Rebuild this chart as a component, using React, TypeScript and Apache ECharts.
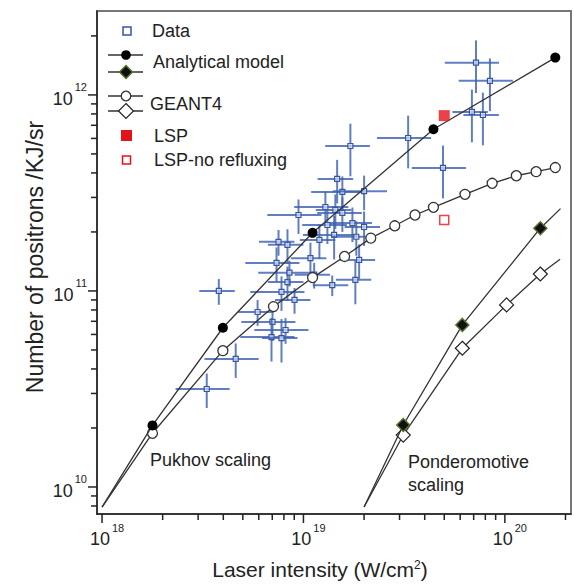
import React, { useEffect, useRef } from 'react';
import * as echarts from 'echarts';

// ---------- axis ranges & ticks ----------
const X_MIN = 9.44e17;
const X_MAX = 2.13e20;
const Y_MIN = 7.28e9;
const Y_MAX = 2.68e12;

const xMajorTicks = [1e18, 1e19, 1e20];
const xMinorTicks = [2e18, 3e18, 4e18, 5e18, 6e18, 7e18, 8e18, 9e18, 2e19, 3e19, 4e19, 5e19, 6e19, 7e19, 8e19, 9e19, 2e20];
const yMajorTicks = [1e10, 1e11, 1e12];
const yMinorTicks = [8e9, 9e9, 2e10, 3e10, 4e10, 5e10, 6e10, 7e10, 8e10, 9e10, 2e11, 3e11, 4e11, 5e11, 6e11, 7e11, 8e11, 9e11, 2e12];

// ---------- experimental data (laser intensity W/cm2, positrons per kJ per sr) ----------
const dataIntensity = [
  3.31e18, 4.61e18, 3.8e18, 5.92e18, 7.02e18, 8.15e18, 6.94e18, 7.78e18, 9.03e18, 7.78e18,
  8.33e18, 8.52e18, 7.35e18, 8.33e18, 7.52e18, 9.45e18, 1.285e19, 1.47e19, 1.71e19, 3.31e19,
  4.93e19, 7.19e19, 8.43e19, 6.86e19, 7.78e19, 1.39e19, 1.56e19, 2.0e19, 1.56e19, 1.75e19,
  2.0e19, 1.42e19, 1.83e19, 1.89e19, 1.81e19, 1.083e19, 1.2e19, 1.315e19, 1.44e19, 1.13e19,
];
const dataPositrons = [
  3.16e10, 4.5e10, 1.0e11, 7.81e10, 6.95e10, 6.32e10, 5.82e10, 5.75e10, 9.0e10, 9.89e10,
  1.11e11, 1.24e11, 1.39e11, 1.72e11, 1.78e11, 2.44e11, 2.68e11, 3.73e11, 5.49e11, 6.03e11,
  4.24e11, 1.46e12, 1.18e12, 8.19e11, 7.9e11, 1.07e11, 3.2e11, 3.23e11, 2.5e11, 2.22e11,
  2.12e11, 1.93e11, 1.89e11, 1.44e11, 1.14e11, 1.47e11, 1.82e11, 2.17e11, 2.59e11, 1.21e11,
];
// relative errors (fraction)
const dataIntensityErr = [
  0.3, 0.3, 0.2, 0.2, 0.3, 0.3, 0.3, 0.2, 0.2, 0.3,
  0.2, 0.3, 0.3, 0.2, 0.2, 0.3, 0.3, 0.2, 0.25, 0.3,
  0.3, 0.3, 0.3, 0.2, 0.2, 0.2, 0.3, 0.3, 0.25, 0.25,
  0.2, 0.3, 0.25, 0.2, 0.2, 0.2, 0.2, 0.25, 0.2, 0.2,
];
const dataPositronsErr = [
  0.2, 0.2, 0.15, 0.15, 0.2, 0.15, 0.25, 0.25, 0.15, 0.2,
  0.2, 0.15, 0.2, 0.2, 0.15, 0.2, 0.2, 0.25, 0.3, 0.3,
  0.3, 0.3, 0.3, 0.3, 0.3, 0.12, 0.2, 0.2, 0.2, 0.2,
  0.2, 0.25, 0.2, 0.2, 0.25, 0.2, 0.2, 0.2, 0.2, 0.15,
];

// ---------- models ----------
const pukhovModelI = [1e18, 1.78e18, 3.98e18, 1.11e19, 4.42e19, 1.78e20];
const pukhovModelN = [7.9e9, 2.06e10, 6.49e10, 1.98e11, 6.68e11, 1.55e12];
const pukhovGeantI = [1e18, 1.78e18, 3.98e18, 7.1e18, 1.11e19, 1.6e19, 2.16e19, 2.84e19, 3.58e19, 4.42e19, 6.34e19, 8.65e19, 1.14e20, 1.43e20, 1.78e20];
const pukhovGeantN = [7.9e9, 1.88e10, 4.96e10, 8.32e10, 1.17e11, 1.5e11, 1.86e11, 2.15e11, 2.44e11, 2.67e11, 3.11e11, 3.54e11, 3.87e11, 4.06e11, 4.26e11];
const pondModelI = [2.0e19, 3.13e19, 6.15e19, 1.5e20, 1.89e20];
const pondModelN = [7.9e9, 2.07e10, 6.71e10, 2.09e11, 2.63e11];
const pondGeantI = [2.0e19, 3.13e19, 6.15e19, 1.02e20, 1.5e20, 1.88e20];
const pondGeantN = [7.9e9, 1.84e10, 5.1e10, 8.49e10, 1.22e11, 1.45e11];

const lspI = [5.0e19];
const lspN = [7.84e11];
const lspNoRefluxI = [5.0e19];
const lspNoRefluxN = [2.3e11];

// ---------- styles ----------
const FONT = '"Liberation Sans", Arial, Helvetica, sans-serif';
const TEXT = '#222';
const BLUE_BAR = 'rgba(62,98,178,0.82)';
const BLUE_SQ = '#3556a6';
const RED = '#e3131b';

function lineData(xs: number[], ys: number[], bare: number[]) {
  return xs.map((x, i) => (bare.includes(i) ? { value: [x, ys[i]], symbol: 'none' } : { value: [x, ys[i]] }));
}

const isPow = (v: number) => {
  const l = Math.log10(v);
  return Math.abs(l - Math.round(l)) < 1e-6;
};
const powLabel = (v: number) => (isPow(v) ? `{b|10}{e|${Math.round(Math.log10(v))}}` : '');

const labelRich = {
  b: { fontSize: 18, fontFamily: FONT, color: TEXT, lineHeight: 26, verticalAlign: 'bottom' },
  e: { fontSize: 11, fontFamily: FONT, color: TEXT, lineHeight: 14, verticalAlign: 'top', padding: [0, 0, 0, 2] },
};

const tickData = [
  ...xMajorTicks.map((v) => [v, Y_MIN, 0, 1]),
  ...xMinorTicks.map((v) => [v, Y_MIN, 0, 0]),
  ...yMajorTicks.map((v) => [X_MIN, v, 1, 1]),
  ...yMinorTicks.map((v) => [X_MIN, v, 1, 0]),
];

const errorData = dataIntensity.map((x, i) => [x, dataPositrons[i], dataIntensityErr[i], dataPositronsErr[i]]);

function legendLine(y: number) {
  return { type: 'line', shape: { x1: 108, y1: y, x2: 143, y2: y }, style: { stroke: '#333', lineWidth: 1.3 } };
}
function diamond(cx: number, cy: number, r: number) {
  return [[cx, cy - r], [cx + r, cy], [cx, cy + r], [cx - r, cy]];
}
function label(text: string, x: number, y: number) {
  return {
    type: 'text', x, y,
    style: { text, font: `18px ${FONT}`, fill: TEXT, align: 'left', verticalAlign: 'middle', textAlign: 'left', textVerticalAlign: 'middle' },
  };
}

const option: any = {
  animation: false,
  backgroundColor: '#fff',
  grid: { left: 97, right: 2, top: 11, bottom: 71, show: true, borderColor: '#777', borderWidth: 2, backgroundColor: 'transparent' },
  xAxis: {
    type: 'log', logBase: 10, min: X_MIN, max: X_MAX,
    axisLine: { show: true, onZero: false, lineStyle: { color: '#222', width: 1.5 } },
    axisTick: { show: false }, splitLine: { show: false }, minorTick: { show: false },
    axisLabel: { formatter: powLabel, rich: labelRich, margin: 8, padding: [0, 0, 0, 10], showMinLabel: true, showMaxLabel: true },
  },
  yAxis: {
    type: 'log', logBase: 10, min: Y_MIN, max: Y_MAX,
    axisLine: { show: true, onZero: false, lineStyle: { color: '#222', width: 1.5 } },
    axisTick: { show: false }, splitLine: { show: false }, minorTick: { show: false },
    axisLabel: { formatter: powLabel, rich: labelRich, margin: 10 },
  },
  series: [
    {
      type: 'custom', name: 'ticks', silent: true, clip: false, z: 1,
      data: tickData,
      renderItem: (params: any, api: any) => {
        const p = api.coord([api.value(0), api.value(1)]);
        const isY = api.value(2) === 1;
        const len = api.value(3) ? 9 : 6;
        return {
          type: 'line',
          shape: isY ? { x1: p[0], y1: p[1], x2: p[0] - len, y2: p[1] } : { x1: p[0], y1: p[1], x2: p[0], y2: p[1] + len },
          style: { stroke: '#222', lineWidth: 1.5 },
        };
      },
    },
    {
      type: 'custom', name: 'Data', silent: true, z: 2,
      data: errorData,
      renderItem: (params: any, api: any) => {
        const x = api.value(0), y = api.value(1), ex = api.value(2), ey = api.value(3);
        const c = api.coord([x, y]);
        const xl = api.coord([x * (1 - ex), y]);
        const xh = api.coord([x * (1 + ex), y]);
        const yl = api.coord([x, y * (1 - ey)]);
        const yh = api.coord([x, y * (1 + ey)]);
        return {
          type: 'group',
          children: [
            { type: 'line', shape: { x1: xl[0], y1: c[1], x2: xh[0], y2: c[1] }, style: { stroke: BLUE_BAR, lineWidth: 2 } },
            { type: 'line', shape: { x1: c[0], y1: yl[1], x2: c[0], y2: yh[1] }, style: { stroke: BLUE_BAR, lineWidth: 2 } },
            { type: 'rect', shape: { x: c[0] - 2.5, y: c[1] - 2.5, width: 5, height: 5 }, style: { fill: 'rgba(255,255,255,0.6)', stroke: BLUE_SQ, lineWidth: 1.2 } },
          ],
        };
      },
    },
    {
      type: 'line', name: 'Analytical model (Pukhov)', silent: true, z: 5,
      data: lineData(pukhovModelI, pukhovModelN, [0]),
      symbol: 'circle', symbolSize: 10,
      itemStyle: { color: '#000' }, lineStyle: { color: '#333', width: 1.3 },
    },
    {
      type: 'line', name: 'GEANT4 (Pukhov)', silent: true, z: 4,
      data: lineData(pukhovGeantI, pukhovGeantN, [0]),
      symbol: 'circle', symbolSize: 10,
      itemStyle: { color: '#fff', borderColor: '#333', borderWidth: 1.3 }, lineStyle: { color: '#333', width: 1.3 },
    },
    {
      type: 'line', name: 'Analytical model (ponderomotive)', silent: true, z: 5,
      data: lineData(pondModelI, pondModelN, [0, pondModelI.length - 1]),
      symbol: 'diamond', symbolSize: 13,
      itemStyle: { color: '#111', borderColor: '#55732f', borderWidth: 1.5 }, lineStyle: { color: '#333', width: 1.3 },
    },
    {
      type: 'line', name: 'GEANT4 (ponderomotive)', silent: true, z: 4,
      data: lineData(pondGeantI, pondGeantN, [0, pondGeantI.length - 1]),
      symbol: 'diamond', symbolSize: 14,
      itemStyle: { color: '#fff', borderColor: '#222', borderWidth: 1.2 }, lineStyle: { color: '#333', width: 1.3 },
    },
    {
      type: 'scatter', name: 'LSP', silent: true, z: 6,
      data: lspI.map((x, i) => [x, lspN[i]]),
      symbol: 'rect', symbolSize: 11, itemStyle: { color: RED },
    },
    {
      type: 'scatter', name: 'LSP-no refluxing', silent: true, z: 6,
      data: lspNoRefluxI.map((x, i) => [x, lspNoRefluxN[i]]),
      symbol: 'rect', symbolSize: 9, itemStyle: { color: '#fff', borderColor: RED, borderWidth: 1.5 },
    },
  ],
  graphic: [
    // legend
    { type: 'rect', shape: { x: 123, y: 27, width: 8, height: 8 }, style: { fill: '#fff', stroke: BLUE_SQ, lineWidth: 1.5 } },
    label('Data', 152, 31),
    legendLine(55),
    { type: 'circle', shape: { cx: 126, cy: 55, r: 4.8 }, style: { fill: '#000' } },
    legendLine(72),
    { type: 'polygon', shape: { points: diamond(126, 72, 6.5) }, style: { fill: '#111', stroke: '#55732f', lineWidth: 1.5 } },
    label('Analytical model', 153, 62),
    legendLine(96),
    { type: 'circle', shape: { cx: 126, cy: 96, r: 4.8 }, style: { fill: '#fff', stroke: '#333', lineWidth: 1.3 } },
    legendLine(111),
    { type: 'polygon', shape: { points: diamond(126, 111, 7.5) }, style: { fill: '#fff', stroke: '#222', lineWidth: 1.2 } },
    label('GEANT4', 150, 104),
    { type: 'rect', shape: { x: 121, y: 130, width: 11, height: 11 }, style: { fill: RED } },
    label('LSP', 154, 136),
    { type: 'rect', shape: { x: 122.5, y: 156, width: 8, height: 8 }, style: { fill: '#fff', stroke: RED, lineWidth: 1.5 } },
    label('LSP-no refluxing', 154, 160),
    // annotations
    label('Pukhov scaling', 150, 460),
    label('Ponderomotive', 408, 462),
    label('scaling', 408, 485),
    // axis titles
    {
      type: 'text', x: 320, y: 569,
      style: {
        text: 'Laser intensity (W/cm{s|2})', font: `21px ${FONT}`, fill: TEXT,
        align: 'center', verticalAlign: 'middle', textAlign: 'center', textVerticalAlign: 'middle',
        rich: { s: { fontSize: 12, fontFamily: FONT, fill: TEXT, verticalAlign: 'top', lineHeight: 12 } },
      },
    },
    {
      type: 'text', x: 35, y: 257, rotation: Math.PI / 2,
      style: {
        text: 'Number of positrons /KJ/sr', font: `23px ${FONT}`, fill: TEXT,
        align: 'center', verticalAlign: 'middle', textAlign: 'center', textVerticalAlign: 'middle',
      },
    },
  ],
};

export default function App() {
  const ref = useRef<HTMLDivElement>(null);
  useEffect(() => {
    const chart = echarts.init(ref.current!, null, { renderer: 'svg' });
    chart.setOption(option);
    return () => chart.dispose();
  }, []);
  return <div ref={ref} style={{ position: 'fixed', left: 0, top: 0, width: 574, height: 585, background: '#fff' }} />;
}
